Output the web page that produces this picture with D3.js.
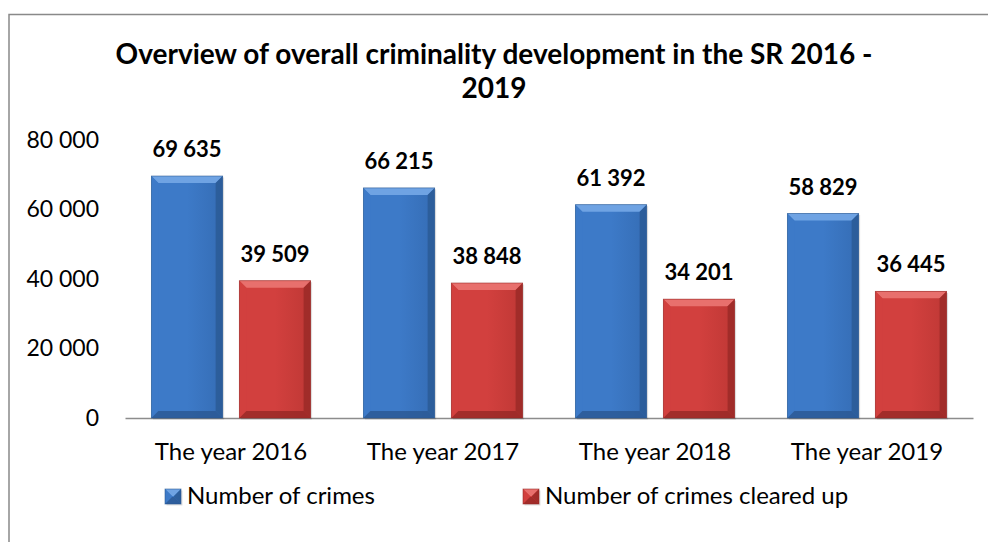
<!DOCTYPE html>
<html>
<head>
<meta charset="utf-8">
<script src="https://cdn.jsdelivr.net/npm/d3@7"></script>
<style>
  html, body { margin: 0; padding: 0; background: #fff; }
  svg { display: block; font-family: Lato, "Open Sans", sans-serif; }
</style>
</head>
<body>
<svg id="chart" width="988" height="542"></svg>
<script>
// Overall criminality in the SR, 2016-2019
const years = ["The year 2016", "The year 2017", "The year 2018", "The year 2019"];
const seriesNames = ["Number of crimes", "Number of crimes cleared up"];
const crimes = [69635, 66215, 61392, 58829];
const clearedUp = [39509, 38848, 34201, 36445];
const yTicks = [0, 20000, 40000, 60000, 80000];

const palette = [
  { base: "#3D7AC8", light: "#6FA3E3", side: "#356DB5", dark: "#2A5892" },
  { base: "#D2403E", light: "#E8706D", side: "#BF3835", dark: "#962826" }
];

const svg = d3.select("#chart");
const W = 988, H = 542;
const margin = { left: 125, right: 15, top: 140, bottom: 124 };
const plotW = W - margin.left - margin.right;
const plotH = H - margin.top - margin.bottom;

const fmt = v => d3.format(",")(v).replace(/,/g, " ");

// outer frame
svg.append("path")
  .attr("d", `M9,${H} V14.5 H${W}`)
  .attr("fill", "none").attr("stroke", "#898989").attr("stroke-width", 1.5);

// title
const title = svg.append("text")
  .attr("text-anchor", "middle").attr("font-weight", "bold")
  .attr("font-size", 28).attr("fill", "#000");
title.append("tspan").attr("x", 494).attr("y", 64)
  .text("Overview of overall criminality development in the SR 2016 -");
title.append("tspan").attr("x", 494).attr("y", 98).text("2019");

const g = svg.append("g").attr("transform", `translate(${margin.left},${margin.top})`);

const x0 = d3.scaleBand().domain(years).range([0, plotW]).paddingInner(0).paddingOuter(0);
const x1 = d3.scaleBand().domain(seriesNames).range([0, x0.bandwidth()])
  .paddingInner(0.19).paddingOuter(0.3);
const y = d3.scaleLinear().domain([0, 80000]).range([plotH, 0]);

// y axis labels
const yAxis = d3.axisLeft(y).tickValues(yTicks).tickSize(0).tickPadding(26).tickFormat(fmt);
const ya = g.append("g").call(yAxis);
ya.select(".domain").remove();
ya.selectAll("text").attr("font-size", 23).attr("fill", "#000")
  .attr("font-family", "Lato, 'Open Sans', sans-serif");

// x axis
const xAxis = d3.axisBottom(x0).tickSize(0).tickPadding(25);
const xa = g.append("g").attr("transform", `translate(0,${plotH})`).call(xAxis);
xa.select(".domain").attr("stroke", "#8c8c8c").attr("stroke-width", 1.5);
xa.selectAll("text").attr("font-size", 24).attr("fill", "#000")
  .attr("font-family", "Lato, 'Open Sans', sans-serif");

const rows = years.map((yr, i) => ({ yr, vals: [crimes[i], clearedUp[i]] }));

const defs = svg.append("defs");
palette.forEach((p, i) => {
  const lg = defs.append("linearGradient").attr("id", "face" + i)
    .attr("x1", 0).attr("x2", 1).attr("y1", 0).attr("y2", 0);
  lg.append("stop").attr("offset", 0).attr("stop-color", p.base);
  lg.append("stop").attr("offset", 0.5).attr("stop-color", p.base);
  lg.append("stop").attr("offset", 1).attr("stop-color", p.side);
});

// beveled bar drawing
function bevelBar(sel, x, yTop, w, h, p, idx) {
  const b = Math.min(7, h / 2);
  const x2 = x + w, y2 = yTop + h;
  sel.append("rect").attr("x", x + 1.5).attr("y", yTop + 1.5).attr("width", w).attr("height", h)
    .attr("fill", "#000").attr("opacity", 0.12);
  sel.append("rect").attr("x", x).attr("y", yTop).attr("width", w).attr("height", h)
    .attr("fill", `url(#face${idx})`);
  sel.append("polygon").attr("points", `${x},${yTop} ${x2},${yTop} ${x2 - b},${yTop + b} ${x + b},${yTop + b}`)
    .attr("fill", p.light);
  sel.append("polygon").attr("points", `${x},${yTop} ${x + b},${yTop + b} ${x + b},${y2 - b} ${x},${y2}`)
    .attr("fill", p.base).attr("opacity", 0.9);
  sel.append("polygon").attr("points", `${x2},${yTop} ${x2},${y2} ${x2 - b},${y2 - b} ${x2 - b},${yTop + b}`)
    .attr("fill", p.dark).attr("opacity", 0.75);
  sel.append("polygon").attr("points", `${x},${y2} ${x + b},${y2 - b} ${x2 - b},${y2 - b} ${x2},${y2}`)
    .attr("fill", p.dark).attr("opacity", 0.8);
  sel.append("rect").attr("x", x).attr("y", yTop).attr("width", w).attr("height", h)
    .attr("fill", "none").attr("stroke", p.dark).attr("stroke-width", 0.8).attr("opacity", 0.7);
}

const groups = g.selectAll("g.grp").data(rows).join("g").attr("class", "grp")
  .attr("transform", d => `translate(${x0(d.yr)},0)`);

groups.each(function (d) {
  const sel = d3.select(this);
  d.vals.forEach((v, i) => {
    const bx = x1(seriesNames[i]);
    const bw = x1.bandwidth();
    bevelBar(sel.append("g"), bx, y(v), bw, plotH - y(v), palette[i], i);
    sel.append("text")
      .attr("x", bx + bw / 2).attr("y", y(v) - 19)
      .attr("text-anchor", "middle").attr("font-weight", "bold")
      .attr("font-size", 22).attr("fill", "#000")
      .text(fmt(v));
  });
});

// legend
const legendX = [165, 523];
const lg = svg.append("g");
seriesNames.forEach((name, i) => {
  const item = lg.append("g").attr("transform", `translate(${legendX[i]},489)`);
  bevelBar(item, 0, 0, 16, 15, palette[i], i);
  item.append("text").attr("x", 22).attr("y", 14.5)
    .attr("font-size", 24).attr("fill", "#000").text(name);
});
</script>
</body>
</html>
